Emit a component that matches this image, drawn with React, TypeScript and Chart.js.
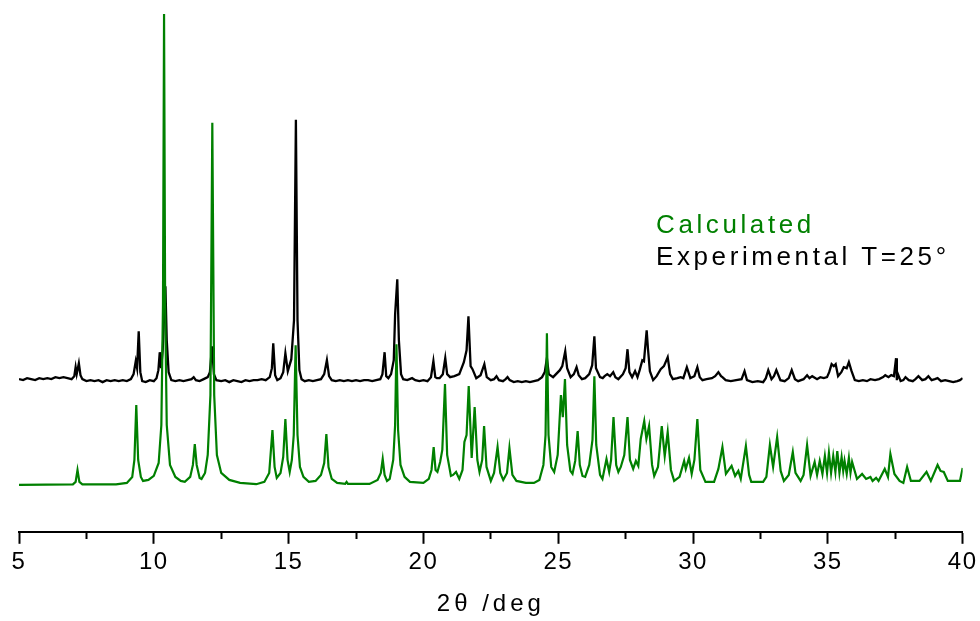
import React, { useEffect, useRef } from "react";
import { Chart, registerables } from "chart.js";

Chart.register(...registerables);

// Powder pattern traces: [2θ in degrees, intensity in arbitrary units]
const calculatedPattern: [number, number][] = [
  [5.0, 0], [7.0, 0.5], [7.1, 3], [7.17, 15], [7.24, 3], [7.35, 0.5], [8.6, 0.5],
  [9.0, 2], [9.2, 8], [9.28, 25], [9.35, 80], [9.42, 25], [9.52, 8], [9.6, 4],
  [9.8, 5], [10.0, 9], [10.18, 22], [10.28, 60], [10.34, 180], [10.38, 472], [10.42, 180],
  [10.48, 60], [10.6, 20], [10.8, 8], [11.0, 4], [11.15, 3], [11.35, 8], [11.45, 20],
  [11.52, 41], [11.59, 20], [11.7, 7], [11.77, 6], [11.9, 12], [12.0, 30], [12.1, 90],
  [12.17, 363], [12.24, 90], [12.34, 30], [12.5, 12], [12.8, 5], [13.2, 2], [13.8, 0.7],
  [14.1, 3], [14.28, 12], [14.4, 55], [14.48, 18], [14.56, 7], [14.7, 12], [14.8, 28],
  [14.88, 66], [14.96, 25], [15.04, 13], [15.12, 25], [15.19, 50], [15.26, 140], [15.33, 50],
  [15.42, 18], [15.55, 8], [15.75, 3], [16.0, 4], [16.2, 10], [16.32, 22], [16.4, 51],
  [16.48, 18], [16.6, 6], [16.8, 2], [17.1, 1], [17.15, 3], [17.2, 1], [18.0, 1],
  [18.3, 5], [18.42, 12], [18.49, 26], [18.56, 10], [18.65, 4], [18.75, 6], [18.88, 25],
  [18.95, 60], [19.0, 141], [19.06, 55], [19.15, 20], [19.3, 8], [19.5, 3], [20.0, 2],
  [20.2, 6], [20.3, 15], [20.38, 38], [20.45, 15], [20.52, 13], [20.62, 23], [20.7, 35],
  [20.8, 101], [20.88, 30], [21.02, 9], [21.1, 10], [21.21, 13], [21.33, 6], [21.45, 15],
  [21.52, 43], [21.6, 50], [21.68, 99], [21.79, 27], [21.9, 78], [22.0, 25], [22.08, 13],
  [22.18, 25], [22.25, 59], [22.34, 18], [22.5, 4], [22.62, 12], [22.75, 38], [22.85, 12],
  [22.96, 5], [23.1, 12], [23.19, 37], [23.3, 10], [23.45, 4], [23.8, 2], [24.1, 2],
  [24.3, 5], [24.45, 20], [24.53, 50], [24.58, 152], [24.64, 50], [24.74, 18], [24.85, 13],
  [24.98, 30], [25.1, 90], [25.17, 68], [25.25, 106], [25.33, 40], [25.45, 14], [25.53, 11],
  [25.63, 24], [25.72, 54], [25.8, 20], [25.9, 9], [26.0, 8], [26.15, 20], [26.27, 45],
  [26.34, 109], [26.41, 40], [26.55, 10], [26.64, 6], [26.79, 26], [26.89, 13], [26.96, 25],
  [27.05, 68], [27.15, 20], [27.23, 13], [27.32, 18], [27.45, 30], [27.57, 68], [27.66, 25],
  [27.78, 16], [27.88, 24], [27.97, 19], [28.06, 46], [28.19, 64], [28.27, 46], [28.37, 59],
  [28.48, 20], [28.56, 9], [28.7, 18], [28.84, 59], [28.95, 29], [29.06, 53], [29.18, 15],
  [29.3, 4], [29.5, 8], [29.67, 24], [29.73, 16], [29.85, 27], [29.95, 11], [30.05, 25],
  [30.16, 66], [30.27, 15], [30.46, 3], [30.78, 3], [30.94, 16], [31.09, 38], [31.22, 11],
  [31.43, 19], [31.56, 9], [31.68, 14], [31.77, 6], [31.96, 39], [32.08, 10], [32.16, 3],
  [32.6, 3], [32.72, 8], [32.85, 40], [32.97, 18], [33.12, 48], [33.25, 14], [33.37, 4],
  [33.55, 10], [33.7, 33], [33.8, 12], [33.99, 4], [34.1, 10], [34.23, 40], [34.36, 9],
  [34.51, 23], [34.6, 10], [34.7, 24], [34.8, 11], [34.89, 29], [34.97, 12], [35.04, 32],
  [35.12, 12], [35.2, 29], [35.28, 13], [35.35, 34], [35.43, 12], [35.51, 28], [35.57, 14],
  [35.62, 24], [35.7, 11], [35.78, 27], [35.84, 12], [35.9, 23], [36.08, 6], [36.27, 11],
  [36.42, 6], [36.58, 8], [36.66, 4], [36.79, 7], [36.88, 4], [37.11, 16], [37.23, 8],
  [37.32, 31], [37.47, 11], [37.66, 4], [37.8, 2], [37.94, 18], [38.08, 4], [38.4, 4],
  [38.66, 13], [38.82, 4], [39.07, 20], [39.18, 14], [39.3, 13], [39.45, 4], [39.7, 4],
  [39.9, 4], [40.0, 17],
];

const experimentalPattern: [number, number][] = [
  [5.0, 1], [5.15, 0], [5.3, 2], [5.45, 1], [5.6, 0], [5.75, 2], [5.9, 1], [6.05, 2],
  [6.2, 1], [6.35, 3], [6.5, 2], [6.65, 3], [6.8, 2], [6.95, 1], [7.05, 4], [7.1, 13],
  [7.14, 6], [7.22, 17], [7.28, 5], [7.35, 1], [7.5, -1], [7.65, 0], [7.8, -1], [7.95, 0],
  [8.1, -2], [8.25, 0], [8.4, -1], [8.55, 0], [8.7, -1], [8.85, 0], [9.0, -1], [9.15, 1],
  [9.25, 6], [9.33, 19], [9.38, 12], [9.44, 49], [9.5, 8], [9.57, -1], [9.7, -2], [9.85, 0],
  [10.0, -1], [10.1, 2], [10.17, 10], [10.22, 28], [10.27, 12], [10.33, 30], [10.38, 63],
  [10.43, 94], [10.48, 40], [10.55, 8], [10.65, 0], [10.8, -1], [10.95, 0], [11.1, -1],
  [11.25, 0], [11.4, 1], [11.48, 3], [11.56, 0], [11.7, -1], [11.85, 1], [12.0, 3],
  [12.08, 8], [12.16, 34], [12.23, 6], [12.32, 0], [12.5, -1], [12.65, 0], [12.8, -2],
  [12.95, 0], [13.1, -1], [13.25, -2], [13.4, 0], [13.55, -1], [13.7, 0], [13.85, 0],
  [14.0, 1], [14.15, 0], [14.3, 3], [14.38, 12], [14.43, 37], [14.5, 5], [14.58, 0],
  [14.7, 2], [14.8, 8], [14.88, 27], [14.97, 9], [15.1, 21], [15.2, 60], [15.27, 261],
  [15.33, 60], [15.4, 10], [15.48, 1], [15.6, -1], [15.75, 0], [15.9, -1], [16.05, 0],
  [16.2, 1], [16.32, 6], [16.42, 20], [16.5, 4], [16.6, 0], [16.75, -1], [16.9, 0],
  [17.05, -1], [17.2, 0], [17.35, -1], [17.5, 0], [17.65, -1], [17.8, 0], [17.95, 0],
  [18.1, -1], [18.25, 0], [18.4, 1], [18.48, 6], [18.56, 28], [18.62, 4], [18.7, 2],
  [18.8, 6], [18.9, 20], [18.95, 66], [19.03, 101], [19.09, 40], [19.17, 6], [19.25, 1],
  [19.4, 0], [19.58, 2], [19.7, 0], [19.85, -1], [20.0, 0], [20.15, -1], [20.28, 3],
  [20.37, 19], [20.44, 3], [20.5, 2], [20.6, 2], [20.72, 6], [20.81, 22], [20.88, 6],
  [20.99, 3], [21.15, 4], [21.33, 6], [21.5, 18], [21.6, 30], [21.67, 64], [21.75, 14],
  [21.82, 11], [21.96, 2], [22.12, 5], [22.26, 16], [22.35, 3], [22.5, 0], [22.62, 1],
  [22.71, 4], [22.8, 0], [22.95, -1], [23.05, 1], [23.12, 3], [23.2, 0], [23.35, -2],
  [23.5, -1], [23.65, -2], [23.8, -1], [23.95, -2], [24.1, -1], [24.25, 0], [24.4, 3],
  [24.5, 8], [24.58, 22], [24.65, 6], [24.81, 3], [25.06, 10], [25.15, 14], [25.26, 29],
  [25.33, 12], [25.46, 3], [25.58, 6], [25.68, 13], [25.76, 5], [25.88, 1], [26.0, 2],
  [26.15, 6], [26.26, 15], [26.34, 44], [26.4, 12], [26.55, 3], [26.65, 2], [26.72, 4],
  [26.82, 6], [26.92, 4], [27.04, 8], [27.12, 3], [27.23, 1], [27.4, 6], [27.5, 12],
  [27.57, 31], [27.64, 8], [27.74, 3], [27.85, 9], [27.94, 3], [28.02, 10], [28.12, 20],
  [28.18, 19], [28.28, 50], [28.33, 31], [28.4, 9], [28.52, 0], [28.65, 4], [28.8, 11],
  [28.92, 14], [29.06, 23], [29.15, 6], [29.25, 1], [29.42, 2], [29.54, 3], [29.64, 2],
  [29.77, 13], [29.9, 2], [30.05, 4], [30.16, 13], [30.25, 3], [30.35, 0], [30.5, 1],
  [30.7, 2], [30.82, 4], [30.94, 8], [31.04, 4], [31.09, 3], [31.21, 0], [31.4, -1],
  [31.6, 0], [31.8, 1], [31.91, 9], [32.0, 0], [32.2, -2], [32.4, -1], [32.6, -2],
  [32.7, 2], [32.79, 10], [32.91, 1], [33.0, 4], [33.09, 10], [33.24, 0], [33.4, -1],
  [33.55, 2], [33.66, 10], [33.78, 1], [33.9, -1], [34.1, 1], [34.23, 5], [34.32, 2],
  [34.42, 4], [34.6, 1], [34.72, 3], [34.85, 2], [34.97, 3], [35.05, 8], [35.14, 16],
  [35.22, 14], [35.29, 16], [35.38, 4], [35.5, 8], [35.59, 13], [35.7, 12], [35.78, 18],
  [35.88, 9], [36.0, 0], [36.15, -1], [36.3, 0], [36.45, -1], [36.58, 1], [36.75, 0],
  [36.9, 1], [37.05, 3], [37.13, 5], [37.25, 3], [37.35, 5], [37.45, 4], [37.53, 22],
  [37.56, 0], [37.6, 6], [37.7, -1], [37.8, 0], [37.88, 3], [38.0, 0], [38.15, -1],
  [38.25, 1], [38.36, 4], [38.5, 0], [38.62, 1], [38.73, 4], [38.85, 0], [38.97, 1],
  [39.07, 2], [39.2, -1], [39.35, 0], [39.5, -1], [39.65, -2], [39.8, -1], [39.9, 0],
  [40.0, 2],
];

// Vertical shift applied to the experimental trace so the two patterns stack
const EXPERIMENTAL_OFFSET = 105;

const xTickLabels = ["5", "10", "15", "20", "25", "30", "35", "40"];
const seriesNames = ["Calculated", "Experimental T=25°"];
const axisTitle = "2θ /deg";

const FONT = "'Liberation Sans', Arial, Helvetica, sans-serif";
const GREEN = "#008000";

// Wide letter spacing for the axis title (drawn with the grid layer) and a
// lighter one for the tick labels (drawn after the datasets, ticks.z = 1).
const letterSpacingPlugin = {
  id: "letterSpacing",
  beforeDraw(chart: any) {
    chart.ctx.letterSpacing = "4px";
  },
  afterDatasetsDraw(chart: any) {
    chart.ctx.letterSpacing = "1.5px";
  },
  afterDraw(chart: any) {
    chart.ctx.letterSpacing = "0px";
  },
};

export default function App() {
  const canvasRef = useRef<HTMLCanvasElement | null>(null);

  useEffect(() => {
    const canvas = canvasRef.current;
    if (!canvas) return;

    const calc = calculatedPattern.map(([x, y]) => ({ x, y }));
    const expt = experimentalPattern.map(([x, y]) => ({ x, y: y + EXPERIMENTAL_OFFSET }));

    const chart = new Chart(canvas, {
      type: "line",
      data: {
        datasets: [
          {
            label: seriesNames[0],
            data: calc,
            borderColor: GREEN,
            borderWidth: 2.2,
            pointRadius: 0,
            tension: 0,
            fill: false,
          },
          {
            label: seriesNames[1],
            data: expt,
            borderColor: "#000000",
            borderWidth: 2.3,
            pointRadius: 0,
            tension: 0,
            fill: false,
          },
        ],
      },
      options: {
        responsive: false,
        animation: false,
        devicePixelRatio: 1,
        layout: { padding: { left: 19, right: 16, top: 10, bottom: 0 } },
        plugins: {
          legend: { display: false },
          tooltip: { enabled: false },
        },
        scales: {
          x: {
            type: "linear",
            min: 5,
            max: 40,
            ticks: {
              stepSize: 2.5,
              autoSkip: false,
              maxRotation: 0,
              padding: 4,
              z: 1,
              color: "#000000",
              font: { family: FONT, size: 24 },
              callback: (value: any) => {
                const v = Number(value);
                return v % 5 === 0 ? xTickLabels[Math.round((v - 5) / 5)] : "";
              },
            },
            grid: {
              display: true,
              drawOnChartArea: false,
              drawTicks: true,
              tickLength: 12,
              tickWidth: 2,
              tickColor: "#000000",
              tickBorderDash: (ctx: any) =>
                ctx.tick && Number(ctx.tick.value) % 5 !== 0 ? [6, 100] : [],
            },
            border: { display: true, color: "#000000", width: 2 },
            title: {
              display: true,
              text: axisTitle,
              color: "#000000",
              font: { family: FONT, size: 24 },
              padding: { top: 9.6, bottom: 2 },
            },
          },
          y: {
            display: false,
            min: -47,
            max: 476,
          },
        },
      },
      plugins: [letterSpacingPlugin],
    });

    return () => chart.destroy();
  }, []);

  const legendBase: React.CSSProperties = {
    position: "absolute",
    left: 656,
    fontFamily: FONT,
    fontSize: 26,
    lineHeight: "26px",
    letterSpacing: "3.6px",
    whiteSpace: "nowrap",
  };

  return (
    <div style={{ position: "absolute", left: 0, top: 0, width: 980, height: 621, background: "#ffffff" }}>
      <canvas ref={canvasRef} width={980} height={621} style={{ display: "block", width: 980, height: 621 }} />
      <div style={{ ...legendBase, top: 211, color: GREEN }}>{seriesNames[0]}</div>
      <div style={{ ...legendBase, top: 243, color: "#000000" }}>{seriesNames[1]}</div>
    </div>
  );
}
